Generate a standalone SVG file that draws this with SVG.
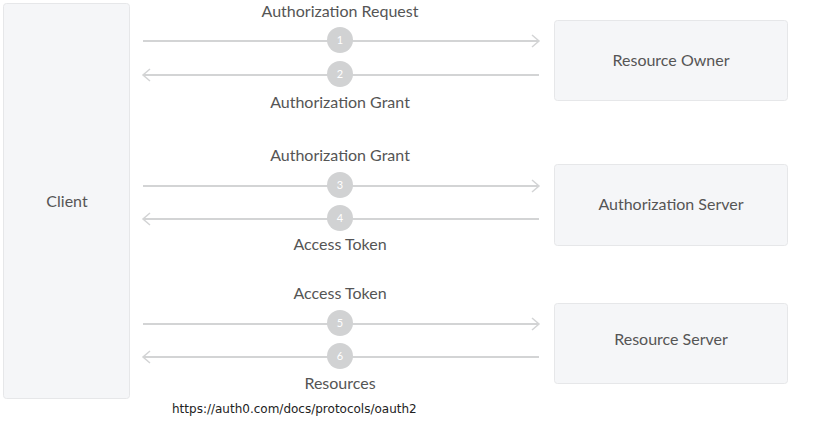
<svg xmlns="http://www.w3.org/2000/svg" width="834" height="431" viewBox="0 0 834 431">
<defs>
<style>
.box{fill:#f5f6f8;stroke:#e6e7e9;stroke-width:1}
.lbl{font-family:Lato,"Open Sans",sans-serif;font-size:16px;fill:#555;text-anchor:middle}
.ln{stroke:#d3d4d5;stroke-width:2;fill:none}
.num{fill:#d1d2d3}
.nt{font-family:Lato,"Open Sans",sans-serif;font-size:11px;fill:#fff;text-anchor:middle}
.url{font-family:"DejaVu Sans",sans-serif;font-size:12px;fill:#222}
</style>
<marker id="ah" markerWidth="12" markerHeight="14" refX="10" refY="7" orient="auto" markerUnits="userSpaceOnUse">
<path d="M3,1 L10,7 L3,13" fill="none" stroke="#d3d4d5" stroke-width="1.5"/>
</marker>
</defs>
<rect width="834" height="431" fill="#fff"/>
<g id="client"><rect class="box" x="3.5" y="3.5" width="126" height="395" rx="3"/><text class="lbl" x="67" y="207">Client</text></g>
<g id="resource-owner"><rect class="box" x="554.5" y="20.5" width="233" height="80" rx="3"/><text class="lbl" x="671" y="66">Resource Owner</text></g>
<g id="authorization-server"><rect class="box" x="554.5" y="164.5" width="233" height="81" rx="3"/><text class="lbl" x="671" y="210">Authorization Server</text></g>
<g id="resource-server"><rect class="box" x="554.5" y="303.5" width="233" height="80" rx="3"/><text class="lbl" x="671" y="345">Resource Server</text></g>
<g id="connectors">
<line class="ln" x1="143" y1="41" x2="539" y2="41" marker-end="url(#ah)"/>
<line class="ln" x1="539" y1="75" x2="143" y2="75" marker-end="url(#ah)"/>
<line class="ln" x1="143" y1="186" x2="539" y2="186" marker-end="url(#ah)"/>
<line class="ln" x1="539" y1="219" x2="143" y2="219" marker-end="url(#ah)"/>
<line class="ln" x1="143" y1="324" x2="539" y2="324" marker-end="url(#ah)"/>
<line class="ln" x1="539" y1="357" x2="143" y2="357" marker-end="url(#ah)"/>
<circle class="num" cx="340" cy="40" r="13"/><text class="nt" x="340" y="44">1</text>
<circle class="num" cx="340" cy="74" r="13"/><text class="nt" x="340" y="78">2</text>
<circle class="num" cx="340" cy="185" r="13"/><text class="nt" x="340" y="189">3</text>
<circle class="num" cx="340" cy="218" r="13"/><text class="nt" x="340" y="222">4</text>
<circle class="num" cx="340" cy="323" r="13"/><text class="nt" x="340" y="327">5</text>
<circle class="num" cx="340" cy="356" r="13"/><text class="nt" x="340" y="360">6</text>
<text class="lbl" x="340" y="17">Authorization Request</text>
<text class="lbl" x="340" y="108">Authorization Grant</text>
<text class="lbl" x="340" y="161">Authorization Grant</text>
<text class="lbl" x="340" y="250">Access Token</text>
<text class="lbl" x="340" y="299">Access Token</text>
<text class="lbl" x="340" y="389">Resources</text>
</g>
<text class="url" x="172" y="413">https://auth0.com/docs/protocols/oauth2</text>
</svg>
